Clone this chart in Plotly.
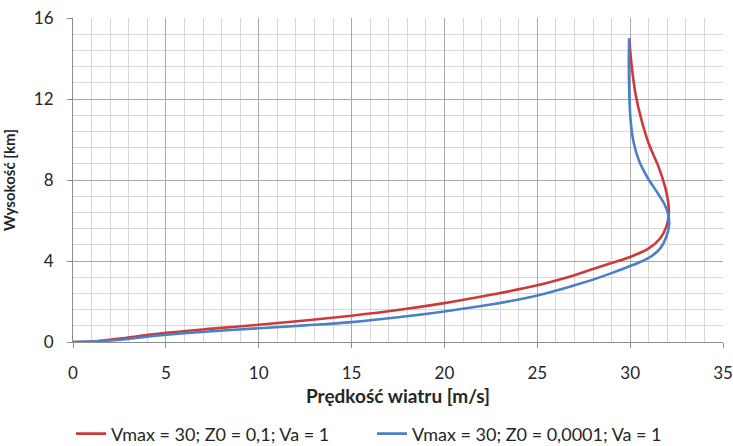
import plotly.graph_objects as go

# Wind speed profiles: speed [m/s] vs height [km]
red_speed = [0, 1.3, 2.5, 5, 7.5, 10, 12.5, 15, 17.5, 20, 22.5, 25, 27, 28, 29, 30,
             31, 31.6, 31.95, 32.08, 32.05, 31.9, 31.55, 31.0, 30.6, 30.3, 30.1, 29.95]
red_height = [0, 0.04, 0.17, 0.45, 0.66, 0.85, 1.06, 1.30, 1.58, 1.92, 2.33, 2.8, 3.3, 3.6,
              3.9, 4.2, 4.62, 5.1, 5.7, 6.3, 6.9, 7.6, 8.6, 9.8, 11.0, 12.2, 13.5, 15.0]

blue_speed = [0, 1.3, 2.5, 5, 7.5, 10, 12.5, 15, 17.5, 20, 22.5, 25, 27, 28, 29, 30,
              31, 31.6, 31.95, 32.1, 32.05, 31.85, 31.45, 30.95, 30.5, 30.2, 30.03, 29.95,
              29.93, 29.95]
blue_height = [0, 0.03, 0.11, 0.36, 0.53, 0.68, 0.82, 0.98, 1.22, 1.51, 1.85, 2.3, 2.8, 3.08,
               3.4, 3.75, 4.15, 4.6, 5.2, 5.8, 6.3, 6.8, 7.4, 8.1, 8.9, 9.8, 10.9, 12.4, 13.9, 15.0]

red_name = "Vmax = 30; Z0 = 0,1; Va = 1"
blue_name = "Vmax = 30; Z0 = 0,0001; Va = 1"

x_ticks = [0, 5, 10, 15, 20, 25, 30, 35]
y_ticks = [0, 4, 8, 12, 16]

FONT = "Lato, 'Open Sans', sans-serif"
TEXT = "#262626"

fig = go.Figure()
fig.add_trace(go.Scatter(x=red_speed, y=red_height, mode="lines", name=red_name,
                         line=dict(color="#cc3a3a", width=2.6, shape="spline", smoothing=1.0)))
fig.add_trace(go.Scatter(x=blue_speed, y=blue_height, mode="lines", name=blue_name,
                         line=dict(color="#4a80c8", width=2.6, shape="spline", smoothing=1.0)))

fig.update_layout(
    width=733, height=446,
    margin=dict(l=73, r=10, t=18, b=104, autoexpand=False),
    paper_bgcolor="white", plot_bgcolor="white",
    font=dict(family=FONT, size=17, color=TEXT),
    showlegend=True,
    legend=dict(orientation="h", x=0.46, xanchor="center",
                yref="container", y=0.027, yanchor="middle",
                font=dict(size=18, color=TEXT), itemwidth=30, entrywidth=256,
                bgcolor="rgba(0,0,0,0)"),
)

fig.update_xaxes(
    range=[0, 35], tickvals=x_ticks, ticktext=[str(v) for v in x_ticks],
    tickfont=dict(size=17, color=TEXT),
    showgrid=True, gridcolor="#a8a8a8", gridwidth=1,
    minor=dict(dtick=1, showgrid=True, gridcolor="#d6d6d6", gridwidth=1),
    showline=True, linecolor="#8c8c8c", linewidth=1.2,
    ticks="outside", ticklen=5, tickcolor="#8c8c8c", ticklabelstandoff=10,
    zeroline=False,
    title=dict(text="<b>Prędkość wiatru [m/s]</b>", font=dict(size=19, color=TEXT), standoff=8),
)
fig.update_yaxes(
    range=[0, 16], tickvals=y_ticks, ticktext=[str(v) for v in y_ticks],
    tickfont=dict(size=17, color=TEXT),
    showgrid=True, gridcolor="#a8a8a8", gridwidth=1,
    minor=dict(dtick=0.8, showgrid=True, gridcolor="#d6d6d6", gridwidth=1),
    showline=True, linecolor="#8c8c8c", linewidth=1.2,
    ticks="outside", ticklen=5, tickcolor="#8c8c8c", ticklabelstandoff=10,
    zeroline=False,
    title=dict(text="<b>Wysokość [km]</b>", font=dict(size=15, color=TEXT), standoff=14),
)

fig.write_html("out.html")
